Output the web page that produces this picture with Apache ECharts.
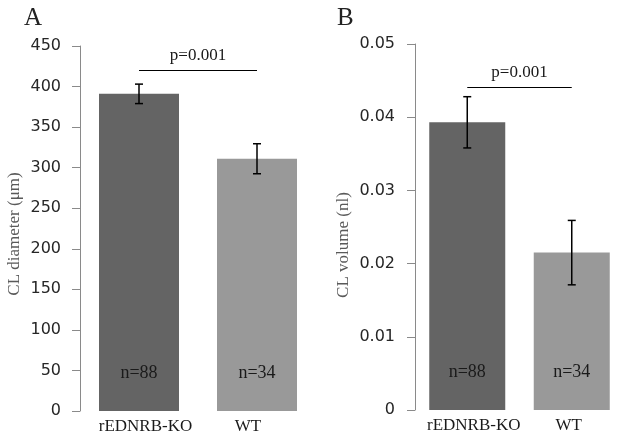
<!DOCTYPE html>
<html><head><meta charset="utf-8">
<script src="https://cdn.jsdelivr.net/npm/echarts@6/dist/echarts.min.js"></script>
<style>html,body{margin:0;padding:0;background:#fff}#c{width:624px;height:437px}</style>
</head><body><div id="c"></div>
<script>
const categories = ['rEDNRB-KO', 'WT'];
const diameter = [391, 311];
const diameterErr = [12, 18.5];
const volume = [0.0393, 0.0215];
const volumeErr = [0.0035, 0.0044];
const nLabels = ['n=88', 'n=34'];
const pText = 'p=0.001';
const pLevelA = 420;
const pLevelB = 0.0441;
const diameterAxis = {min: 0, max: 450, interval: 50};
const volumeAxis = {min: 0, max: 0.05, interval: 0.01};
const barColors = ['#646464', '#999999'];

const serif = 'Liberation Serif';
const chart = echarts.init(document.getElementById('c'), null, {renderer: 'canvas'});

function errItem(params, api) {
  const x = api.value(0), y = api.value(1), e = api.value(2);
  const t = api.coord([x, y + e]);
  const b = api.coord([x, y - e]);
  const st = {stroke: '#000', lineWidth: 1.5};
  return {type: 'group', children: [
    {type: 'line', shape: {x1: t[0], y1: t[1], x2: b[0], y2: b[1]}, style: st},
    {type: 'line', shape: {x1: t[0] - 4, y1: t[1], x2: t[0] + 4, y2: t[1]}, style: st},
    {type: 'line', shape: {x1: b[0] - 4, y1: b[1], x2: b[0] + 4, y2: b[1]}, style: st}
  ]};
}

function yAx(idx, cfg, name, gap, margin, pad) {
  return Object.assign({
    type: 'value', gridIndex: idx, name: name, nameLocation: 'middle', nameGap: gap,
    nameTextStyle: {fontFamily: serif, fontSize: 17, color: '#5a5a5a', padding: pad},
    axisLine: {show: true, lineStyle: {color: '#8a8a8a', width: 1}},
    axisTick: {show: true, length: 8, lineStyle: {color: '#8a8a8a'}},
    splitLine: {show: false},
    axisLabel: {fontFamily: 'DejaVu Sans', fontSize: 16, color: '#262626', margin: margin}
  }, cfg);
}
function xAx(idx, pads) {
  const base = {fontFamily: serif, fontSize: 17, color: '#1a1a1a'};
  return {
    type: 'category', gridIndex: idx, data: categories,
    axisLine: {show: false}, axisTick: {show: false},
    axisLabel: {interval: 0, margin: 7, fontFamily: serif, fontSize: 17, color: '#1a1a1a',
      formatter: (v, i) => '{c' + i + '|' + v + '}',
      rich: {
        c0: Object.assign({padding: pads[0]}, base),
        c1: Object.assign({padding: pads[1]}, base)
      }}
  };
}
function barSeries(idx, vals) {
  return {
    type: 'bar', xAxisIndex: idx, yAxisIndex: idx, barWidth: idx === 0 ? 80 : 76,
    data: vals.map((v, i) => ({value: v, itemStyle: {color: barColors[i]}})),
    label: {show: true, position: 'insideBottom', distance: 29,
      formatter: p => nLabels[p.dataIndex],
      fontFamily: serif, fontSize: 18, color: '#1a1a1a'},
    markLine: {
      symbol: 'none', silent: true,
      lineStyle: {color: '#000', width: 1.2, type: 'solid'},
      label: {show: true, position: 'middle', formatter: pText, fontFamily: serif, fontSize: 17, color: '#1a1a1a', distance: 6},
      data: [[{coord: [categories[0], idx === 0 ? pLevelA : pLevelB]}, {coord: [categories[1], idx === 0 ? pLevelA : pLevelB]}]]
    }
  };
}

chart.setOption({
  animation: false,
  title: [
    {text: 'A', left: 19, top: 1, textStyle: {fontFamily: serif, fontSize: 25, fontWeight: 'normal', color: '#222'}},
    {text: 'B', left: 332, top: 1, textStyle: {fontFamily: serif, fontSize: 25, fontWeight: 'normal', color: '#222'}}
  ],
  grid: [
    {left: 80, top: 46, width: 236, height: 365},
    {left: 415, top: 44, width: 221, height: 366}
  ],
  xAxis: [xAx(0, [[0, 0, 0, 13], [0, 18, 0, 0]]), xAx(1, [[0, 0, 0, 13], [0, 6, 0, 0]])],
  yAxis: [
    yAx(0, diameterAxis, 'CL diameter (μm)', 57, 19, [0, 11, 0, 0]),
    yAx(1, volumeAxis, 'CL volume (nl)', 63, 20, [0, 36, 0, 0])
  ],
  series: [
    barSeries(0, diameter),
    barSeries(1, volume),
    {type: 'custom', xAxisIndex: 0, yAxisIndex: 0, renderItem: errItem, z: 5,
      data: categories.map((c, i) => [i, diameter[i], diameterErr[i]])},
    {type: 'custom', xAxisIndex: 1, yAxisIndex: 1, renderItem: errItem, z: 5,
      data: categories.map((c, i) => [i, volume[i], volumeErr[i]])}
  ]
});
</script></body></html>
